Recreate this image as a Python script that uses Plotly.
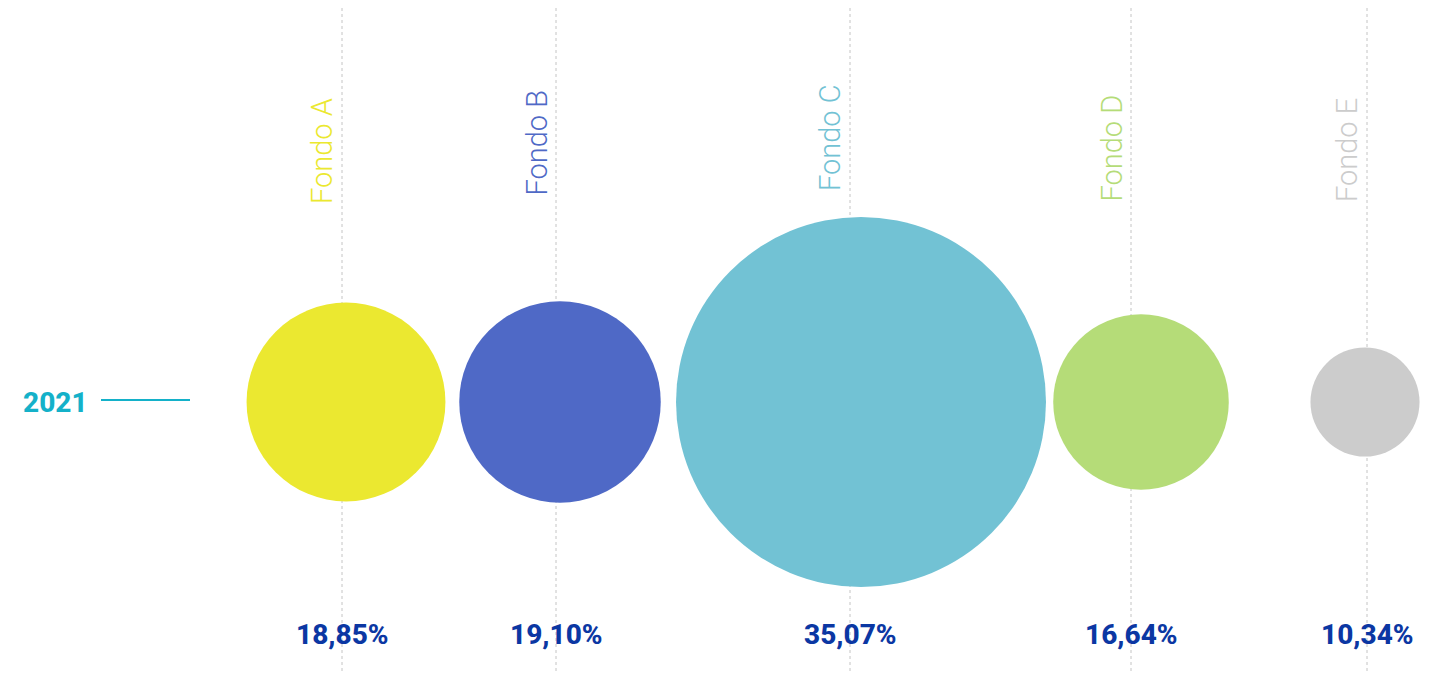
import plotly.graph_objects as go

# ---- data ----
funds = ["Fondo A", "Fondo B", "Fondo C", "Fondo D", "Fondo E"]
values = [18.85, 19.10, 35.07, 16.64, 10.34]
value_labels = ["18,85%", "19,10%", "35,07%", "16,64%", "10,34%"]
year_label = "2021"

# ---- layout / style (pixel-like coordinate system) ----
W, H = 1444, 674
line_x = [342, 556, 850, 1131, 1367]        # category guide lines
bubble_x = [346, 560, 861, 1141, 1365]      # bubble centres
label_bottom = [206, 198, 193, 204, 204]
row_y = 402
colors = ["#ebe830", "#4f69c6", "#72c2d4", "#b5dc78", "#cccccc"]
px_per_unit = 10.55

fig = go.Figure()

fig.add_trace(go.Scatter(
    x=bubble_x, y=[row_y] * len(values), mode="markers",
    marker=dict(size=values, sizemode="diameter", sizeref=1 / px_per_unit,
                color=colors, opacity=1, line=dict(width=0)),
    hoverinfo="text", text=[f"{f}: {v}" for f, v in zip(funds, value_labels)],
    showlegend=False,
))

shapes = []
for lx in line_x:
    shapes.append(dict(type="line", x0=lx, x1=lx, y0=8, y1=H, layer="below",
                       line=dict(color="#c4c4c4", width=1, dash="dot")))
shapes.append(dict(type="line", x0=101, x1=190, y0=400, y1=400,
                   line=dict(color="#14b1c9", width=2)))

annotations = []
for f, lx, lb, c in zip(funds, line_x, label_bottom, colors):
    annotations.append(dict(x=lx - 20, y=lb, text=f, showarrow=False, textangle=-90,
                            xanchor="center", yanchor="bottom",
                            font=dict(family="Roboto", size=29, color=c, weight=300)))
for vl, lx in zip(value_labels, line_x):
    annotations.append(dict(x=lx, y=634, text=vl, showarrow=False,
                            xanchor="center", yanchor="middle",
                            font=dict(family="Roboto", size=28, color="#0b37a3", weight=800)))
annotations.append(dict(x=55, y=402, text=year_label, showarrow=False,
                        xanchor="center", yanchor="middle",
                        font=dict(family="Roboto", size=28, color="#14b1c9", weight=800)))

fig.update_layout(
    width=W, height=H, margin=dict(l=0, r=0, t=0, b=0),
    paper_bgcolor="white", plot_bgcolor="white",
    xaxis=dict(range=[0, W], visible=False, fixedrange=True),
    yaxis=dict(range=[H, 0], visible=False, fixedrange=True),
    shapes=shapes, annotations=annotations,
)

fig.write_html("out.html")
